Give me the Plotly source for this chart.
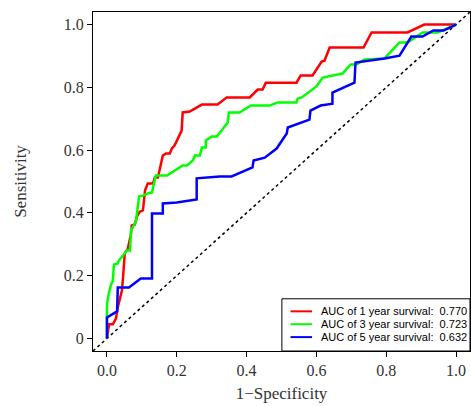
import plotly.graph_objects as go

# 1-year survival ROC (1-specificity, sensitivity)
fpr_1y = [0, 0.006, 0.017, 0.026, 0.031, 0.043, 0.046, 0.051, 0.060, 0.069, 0.071, 0.080,
          0.086, 0.094, 0.103, 0.109, 0.117, 0.132, 0.137, 0.146, 0.160, 0.169, 0.180,
          0.186, 0.194, 0.203, 0.214, 0.217, 0.237, 0.272, 0.317, 0.343, 0.409, 0.432,
          0.446, 0.455, 0.543, 0.555, 0.589, 0.615, 0.623, 0.638, 0.735, 0.758, 0.861,
          0.909, 1.0]
tpr_1y = [0, 0.045, 0.045, 0.064, 0.099, 0.153, 0.194, 0.271, 0.287, 0.334, 0.360, 0.363,
          0.389, 0.404, 0.408, 0.471, 0.494, 0.494, 0.513, 0.513, 0.583, 0.589, 0.589,
          0.605, 0.615, 0.637, 0.662, 0.720, 0.723, 0.745, 0.745, 0.768, 0.768, 0.793,
          0.793, 0.815, 0.815, 0.838, 0.838, 0.882, 0.885, 0.927, 0.927, 0.975, 0.975,
          1.0, 1.0]

# 3-year survival ROC
fpr_3y = [0, 0, 0.003, 0.011, 0.017, 0.020, 0.031, 0.034, 0.046, 0.057, 0.066, 0.069,
          0.074, 0.083, 0.086, 0.089, 0.092, 0.103, 0.117, 0.129, 0.132, 0.140, 0.172,
          0.217, 0.229, 0.246, 0.252, 0.266, 0.272, 0.283, 0.283, 0.300, 0.315, 0.346,
          0.349, 0.380, 0.412, 0.466, 0.489, 0.543, 0.546, 0.558, 0.600, 0.618, 0.675,
          0.689, 0.698, 0.715, 0.738, 0.795, 0.838, 0.861, 0.904, 0.947, 1.0]
tpr_3y = [0, 0.105, 0.131, 0.169, 0.185, 0.236, 0.239, 0.248, 0.264, 0.280, 0.280, 0.347,
          0.354, 0.373, 0.398, 0.430, 0.452, 0.455, 0.462, 0.465, 0.481, 0.519, 0.519,
          0.551, 0.551, 0.567, 0.583, 0.583, 0.608, 0.608, 0.631, 0.643, 0.643, 0.688,
          0.720, 0.720, 0.742, 0.742, 0.752, 0.752, 0.764, 0.768, 0.803, 0.831, 0.844,
          0.860, 0.873, 0.873, 0.889, 0.892, 0.943, 0.943, 0.975, 0.975, 1.0]

# 5-year survival ROC
fpr_5y = [0, 0, 0.029, 0.031, 0.063, 0.097, 0.129, 0.129, 0.160, 0.160, 0.200, 0.257,
          0.257, 0.323, 0.357, 0.417, 0.420, 0.452, 0.486, 0.515, 0.518, 0.580, 0.583,
          0.612, 0.646, 0.646, 0.709, 0.712, 0.795, 0.838, 0.872, 0.904, 0.935, 0.964, 1.0]
tpr_5y = [0, 0.067, 0.086, 0.162, 0.162, 0.191, 0.191, 0.398, 0.398, 0.430, 0.433, 0.443,
          0.510, 0.516, 0.516, 0.545, 0.567, 0.576, 0.605, 0.653, 0.672, 0.697, 0.726,
          0.742, 0.748, 0.783, 0.815, 0.879, 0.892, 0.901, 0.962, 0.962, 0.981, 0.981, 1.0]

series_names = ["AUC of 1 year survival:\u00a0\u00a00.770",
                "AUC of 3 year survival:\u00a0\u00a00.723",
                "AUC of 5 year survival:\u00a0\u00a00.632"]
series_colors = ["#FF0000", "#00FF00", "#0000FF"]

ref_line = [-0.04, 1.04]
x_ticks = [0, 0.2, 0.4, 0.6, 0.8, 1.0]
x_tick_labels = ["0.0", "0.2", "0.4", "0.6", "0.8", "1.0"]
y_ticks = [0, 0.2, 0.4, 0.6, 0.8, 1.0]
y_tick_labels = ["0", "0.2", "0.4", "0.6", "0.8", "1.0"]

fig = go.Figure()
fig.add_trace(go.Scatter(x=ref_line, y=ref_line, mode="lines",
                         line=dict(color="black", width=1.5, dash="3px,3px"),
                         showlegend=False, hoverinfo="skip"))
for xs, ys, name, col in zip([fpr_1y, fpr_3y, fpr_5y], [tpr_1y, tpr_3y, tpr_5y],
                             series_names, series_colors):
    fig.add_trace(go.Scatter(x=xs, y=ys, mode="lines", name=name, showlegend=False,
                             line=dict(color=col, width=2.5)))

# Manual legend (R-style compact box) in paper coordinates
leg_x0, leg_x1, leg_y0, leg_y1 = 0.501, 1.0, 0.0, 0.154
seg_x0, seg_x1, text_x = 0.524, 0.581, 0.600
row_y = [0.117, 0.079, 0.041]
shapes = [dict(type="rect", xref="paper", yref="paper", x0=leg_x0, x1=leg_x1,
               y0=leg_y0, y1=leg_y1, line=dict(color="black", width=1),
               fillcolor="white", layer="above")]
annotations = []
for name, col, ry in zip(series_names, series_colors, row_y):
    shapes.append(dict(type="line", xref="paper", yref="paper", x0=seg_x0, x1=seg_x1,
                       y0=ry, y1=ry, line=dict(color=col, width=2), layer="above"))
    annotations.append(dict(xref="paper", yref="paper", x=text_x, y=ry, text=name,
                            showarrow=False, xanchor="left", yanchor="middle",
                            font=dict(family="Liberation Sans, Arial, sans-serif",
                                      size=11, color="black")))

serif = "Liberation Serif, Times New Roman, serif"
axis_common = dict(showline=True, linecolor="black", linewidth=1, mirror=True,
                   ticks="outside", ticklen=5, tickcolor="black", showgrid=False,
                   zeroline=False, tickfont=dict(family=serif, size=16, color="#333"))

fig.update_layout(
    width=471, height=406,
    margin=dict(l=93, r=1, t=12, b=55),
    paper_bgcolor="white", plot_bgcolor="white",
    showlegend=False,
    shapes=shapes, annotations=annotations,
    xaxis=dict(range=[-0.04, 1.04], tickvals=x_ticks, ticktext=x_tick_labels,
               title=dict(text="1\u2212Specificity", font=dict(family=serif, size=17, color="#333"),
                          standoff=8),
               **axis_common),
    yaxis=dict(range=[-0.04, 1.04], tickvals=y_ticks, ticktext=y_tick_labels,
               title=dict(text="Sensitivity", font=dict(family=serif, size=17, color="#333"),
                          standoff=32),
               **axis_common),
)

fig.write_html("out.html")
